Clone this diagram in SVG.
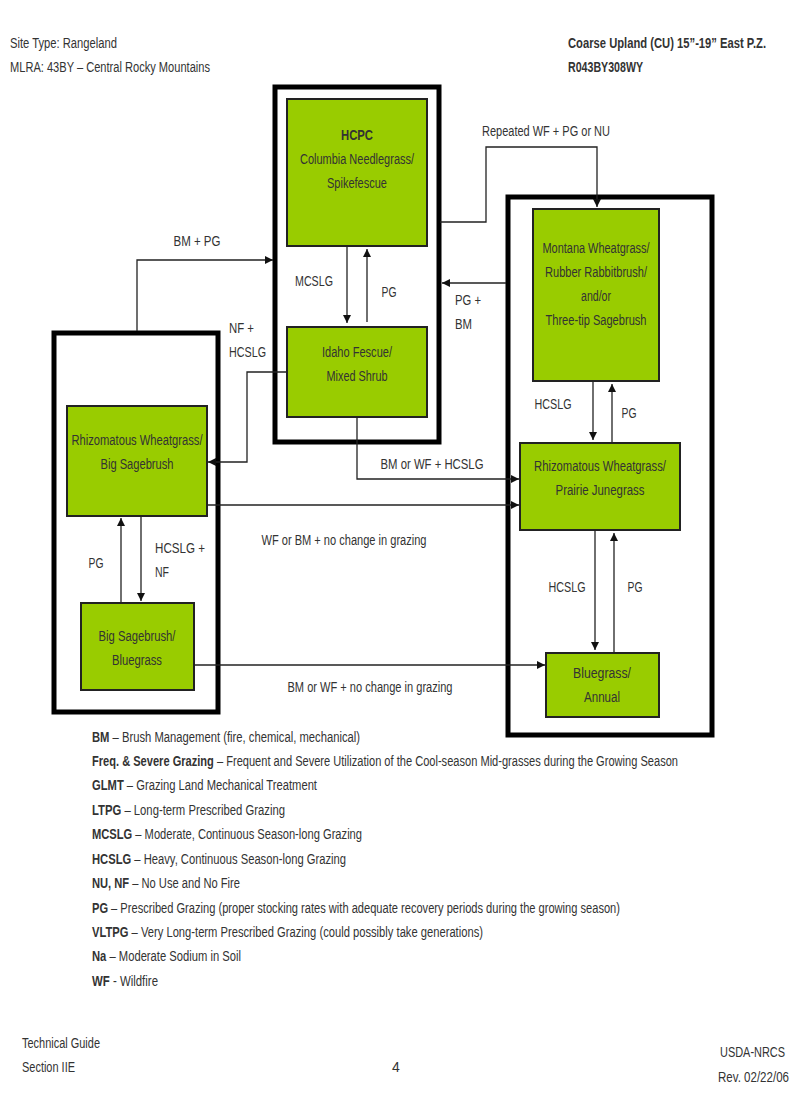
<svg xmlns="http://www.w3.org/2000/svg" width="800" height="1108" viewBox="0 0 800 1108">
<style>
text{font-family:"Liberation Sans",Arial,sans-serif;font-size:14px;fill:#333}
.n{fill:#99cc00;stroke:#222;stroke-width:2}
.o{fill:none;stroke:#000;stroke-width:5}
.c{fill:none;stroke:#222;stroke-width:1.3;marker-end:url(#a)}
.m{text-anchor:middle}
.b{font-weight:bold}
</style>
<defs><marker id="a" viewBox="0 0 10 10" refX="10" refY="5" markerWidth="8" markerHeight="8" orient="auto" markerUnits="userSpaceOnUse"><path d="M0,0L10,5L0,10z" fill="#111"/></marker></defs>
<rect width="800" height="1108" fill="#fff"/>
<text x="10" y="48" textLength="107" lengthAdjust="spacingAndGlyphs">Site Type:  Rangeland</text>
<text x="10" y="72" textLength="200" lengthAdjust="spacingAndGlyphs">MLRA:  43BY – Central Rocky Mountains</text>
<text x="568" y="48" class="b" textLength="198" lengthAdjust="spacingAndGlyphs">Coarse Upland (CU) 15”-19” East P.Z.</text>
<text x="568" y="72" class="b" textLength="75" lengthAdjust="spacingAndGlyphs">R043BY308WY</text>
<rect class="o" x="275" y="87" width="164" height="355"/>
<rect class="o" x="508" y="197" width="204" height="538"/>
<rect class="o" x="54" y="333" width="164" height="379"/>
<g id="hcpc"><rect class="n" x="287" y="99" width="140" height="147"/><text x="357" y="140" class="m b" textLength="32" lengthAdjust="spacingAndGlyphs">HCPC</text><text x="357" y="164" class="m" textLength="114" lengthAdjust="spacingAndGlyphs">Columbia Needlegrass/</text><text x="357" y="188" class="m" textLength="60" lengthAdjust="spacingAndGlyphs">Spikefescue</text></g>
<g id="idaho"><rect class="n" x="287" y="327" width="140" height="90"/><text x="357" y="357" class="m" textLength="70" lengthAdjust="spacingAndGlyphs">Idaho Fescue/</text><text x="357" y="381" class="m" textLength="61" lengthAdjust="spacingAndGlyphs">Mixed Shrub</text></g>
<g id="montana"><rect class="n" x="533" y="209" width="126" height="172"/><text x="596" y="253" class="m" textLength="107" lengthAdjust="spacingAndGlyphs">Montana Wheatgrass/</text><text x="596" y="277" class="m" textLength="102" lengthAdjust="spacingAndGlyphs">Rubber Rabbitbrush/</text><text x="596" y="301" class="m" textLength="30" lengthAdjust="spacingAndGlyphs">and/or</text><text x="596" y="325" class="m" textLength="101" lengthAdjust="spacingAndGlyphs">Three-tip Sagebrush</text></g>
<g id="rhizoPrairie"><rect class="n" x="520" y="443" width="160" height="87"/><text x="600" y="471" class="m" textLength="132" lengthAdjust="spacingAndGlyphs">Rhizomatous Wheatgrass/</text><text x="600" y="495" class="m" textLength="89" lengthAdjust="spacingAndGlyphs">Prairie Junegrass</text></g>
<g id="bluegrass"><rect class="n" x="546" y="653" width="113" height="64"/><text x="602" y="678" class="m" textLength="58" lengthAdjust="spacingAndGlyphs">Bluegrass/</text><text x="602" y="702" class="m" textLength="36" lengthAdjust="spacingAndGlyphs">Annual</text></g>
<g id="rhizoBig"><rect class="n" x="67" y="406" width="140" height="110"/><text x="137" y="445" class="m" textLength="131" lengthAdjust="spacingAndGlyphs">Rhizomatous Wheatgrass/</text><text x="137" y="469" class="m" textLength="73" lengthAdjust="spacingAndGlyphs">Big Sagebrush</text></g>
<g id="bigSage"><rect class="n" x="81" y="603" width="113" height="87"/><text x="137" y="641" class="m" textLength="77" lengthAdjust="spacingAndGlyphs">Big Sagebrush/</text><text x="137" y="665" class="m" textLength="50" lengthAdjust="spacingAndGlyphs">Bluegrass</text></g>
<g id="connectors">
<path class="c" d="M137,331V260H273"/>
<path class="c" d="M347,246V323"/>
<path class="c" d="M367,322V249"/>
<path class="c" d="M440,222H486V147H597V207"/>
<path class="c" d="M506,283H442"/>
<path class="c" d="M287,372H247V462H208"/>
<path class="c" d="M357,417V479H519"/>
<path class="c" d="M207,505H519"/>
<path class="c" d="M194,665H545"/>
<path class="c" d="M121,603V518"/>
<path class="c" d="M141,516V601"/>
<path class="c" d="M593,381V440"/>
<path class="c" d="M612,442V384"/>
<path class="c" d="M595,530V650"/>
<path class="c" d="M614,652V533"/>
</g>
<g id="labels">
<text x="197" y="246" class="m" textLength="47" lengthAdjust="spacingAndGlyphs">BM + PG</text>
<text x="314" y="286" class="m" textLength="38" lengthAdjust="spacingAndGlyphs">MCSLG</text>
<text x="389" y="297" class="m" textLength="15" lengthAdjust="spacingAndGlyphs">PG</text>
<text x="546" y="136" class="m" textLength="128" lengthAdjust="spacingAndGlyphs">Repeated WF + PG or NU</text>
<text x="455" y="305" textLength="26" lengthAdjust="spacingAndGlyphs">PG +</text><text x="455" y="329" textLength="17" lengthAdjust="spacingAndGlyphs">BM</text>
<text x="229" y="333" textLength="25" lengthAdjust="spacingAndGlyphs">NF +</text><text x="229" y="357" textLength="37" lengthAdjust="spacingAndGlyphs">HCSLG</text>
<text x="432" y="469" class="m" textLength="103" lengthAdjust="spacingAndGlyphs">BM or WF + HCSLG</text>
<text x="344" y="545" class="m" textLength="165" lengthAdjust="spacingAndGlyphs">WF or BM + no change in grazing</text>
<text x="370" y="692" class="m" textLength="165" lengthAdjust="spacingAndGlyphs">BM or WF + no change in grazing</text>
<text x="96" y="568" class="m" textLength="15" lengthAdjust="spacingAndGlyphs">PG</text>
<text x="155" y="553" textLength="50" lengthAdjust="spacingAndGlyphs">HCSLG +</text><text x="155" y="577" textLength="14" lengthAdjust="spacingAndGlyphs">NF</text>
<text x="553" y="409" class="m" textLength="37" lengthAdjust="spacingAndGlyphs">HCSLG</text>
<text x="629" y="418" class="m" textLength="15" lengthAdjust="spacingAndGlyphs">PG</text>
<text x="567" y="592" class="m" textLength="37" lengthAdjust="spacingAndGlyphs">HCSLG</text>
<text x="635" y="592" class="m" textLength="15" lengthAdjust="spacingAndGlyphs">PG</text>
</g>
<g id="legend">
<text x="92" y="742" textLength="268" lengthAdjust="spacingAndGlyphs"><tspan class="b">BM</tspan> – Brush Management (fire, chemical, mechanical)</text>
<text x="92" y="766" textLength="586" lengthAdjust="spacingAndGlyphs"><tspan class="b">Freq. &amp; Severe Grazing</tspan> – Frequent and Severe Utilization of the Cool-season Mid-grasses during the Growing Season</text>
<text x="92" y="790" textLength="225" lengthAdjust="spacingAndGlyphs"><tspan class="b">GLMT</tspan> – Grazing Land Mechanical Treatment</text>
<text x="92" y="815" textLength="193" lengthAdjust="spacingAndGlyphs"><tspan class="b">LTPG</tspan> – Long-term Prescribed Grazing</text>
<text x="92" y="839" textLength="270" lengthAdjust="spacingAndGlyphs"><tspan class="b">MCSLG</tspan> – Moderate, Continuous Season-long Grazing</text>
<text x="92" y="864" textLength="254" lengthAdjust="spacingAndGlyphs"><tspan class="b">HCSLG</tspan> – Heavy, Continuous Season-long Grazing</text>
<text x="92" y="888" textLength="148" lengthAdjust="spacingAndGlyphs"><tspan class="b">NU, NF</tspan> – No Use and No Fire</text>
<text x="92" y="913" textLength="528" lengthAdjust="spacingAndGlyphs"><tspan class="b">PG</tspan> – Prescribed Grazing (proper stocking rates with adequate recovery periods during the growing season)</text>
<text x="92" y="937" textLength="391" lengthAdjust="spacingAndGlyphs"><tspan class="b">VLTPG</tspan> – Very Long-term Prescribed Grazing (could possibly take generations)</text>
<text x="92" y="961" textLength="149" lengthAdjust="spacingAndGlyphs"><tspan class="b">Na</tspan> – Moderate Sodium in Soil</text>
<text x="92" y="986" textLength="66" lengthAdjust="spacingAndGlyphs"><tspan class="b">WF</tspan> - Wildfire</text>
</g>
<text x="22" y="1048" textLength="78" lengthAdjust="spacingAndGlyphs">Technical Guide</text>
<text x="22" y="1072" textLength="53" lengthAdjust="spacingAndGlyphs">Section IIE</text>
<text x="396" y="1072" class="m">4</text>
<text x="720" y="1057" textLength="65" lengthAdjust="spacingAndGlyphs">USDA-NRCS</text>
<text x="718" y="1082" textLength="71" lengthAdjust="spacingAndGlyphs">Rev. 02/22/06</text>
</svg>
